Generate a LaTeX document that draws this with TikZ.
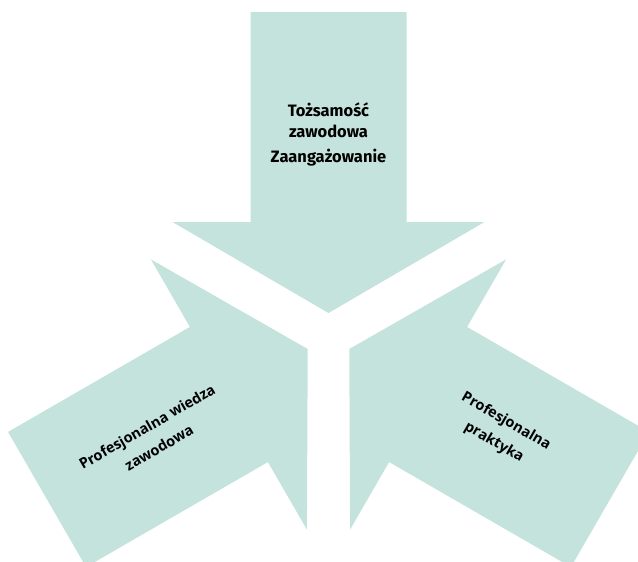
\documentclass[tikz,border=0pt]{standalone}
\usepackage{fontspec}
\setmainfont{Open Sans}
\newfontfamily\topfont{Fira Sans}
\definecolor{arrowfill}{HTML}{C4E3DC}
\tikzset{
  arrowshape/.style={fill=arrowfill, draw=none},
  toplabel/.style={font=\topfont\bfseries\fontsize{16.5}{21}\selectfont, align=center, inner sep=0pt},
  sidelabel/.style={font=\bfseries\fontsize{14.5}{24}\selectfont, align=center, inner sep=0pt}
}
\begin{document}
\begin{tikzpicture}[x=1pt,y=-1pt]
\useasboundingbox (0,0) rectangle (638,562);
\foreach \ang in {0,120,-120}{
  \begin{scope}[shift={(328.5,337)}, rotate=\ang]
    \fill[arrowshape] (-78,-325) -- (78,-325) -- (78,-115) -- (156,-115) -- (0,-24) -- (-156,-115) -- (-78,-115) -- cycle;
  \end{scope}
}
\node[toplabel] (t1) at (328.5,120) {Tożsamość\\zawodowa};
\node[toplabel] (t2) at (328.5,158) {Zaangażowanie};
\node[sidelabel, rotate=30] (l) at (153,437) {Profesjonalna wiedza\\zawodowa};
\node[sidelabel, rotate=-30] (r) at (500,432) {Profesjonalna\\praktyka};
\end{tikzpicture}
\end{document}
